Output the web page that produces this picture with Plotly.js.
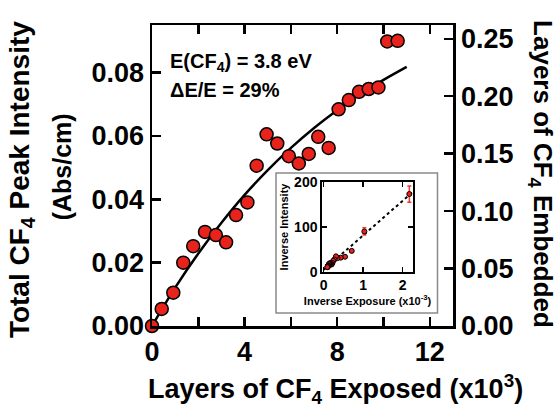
<!DOCTYPE html>
<html>
<head>
<meta charset="utf-8">
<script src="https://cdn.plot.ly/plotly-3.0.1.min.js"></script>
<style>html,body{margin:0;padding:0;background:#fff;}#chart{width:560px;height:408px;}</style>
</head>
<body>
<div id="chart"></div>
<script>
// Main data: layers exposed (x10^3) vs total CF4 peak intensity (Abs/cm)
const exposed = [0, 0.42, 0.92, 1.35, 1.78, 2.29, 2.76, 3.20, 3.63, 4.12, 4.52, 4.95, 5.41, 5.91, 6.34, 6.77, 7.18, 7.63, 8.06, 8.50, 8.94, 9.36, 9.78, 10.16, 10.61];
const intensity = [0, 0.0054, 0.0105, 0.0200, 0.0252, 0.0297, 0.0287, 0.0264, 0.0350, 0.0390, 0.0506, 0.0605, 0.0576, 0.0536, 0.0513, 0.0543, 0.0597, 0.0562, 0.0684, 0.0713, 0.0739, 0.0748, 0.0753, 0.0898, 0.0900];
// Fitted curve
const fitX = [0, 1, 2, 3, 4, 5, 6, 7, 8, 9, 10, 11];
const fitY = [0, 0.0121, 0.0229, 0.0326, 0.0414, 0.0492, 0.0562, 0.0625, 0.0681, 0.0732, 0.0777, 0.0818];
// Inset: inverse exposure (x10^-3) vs inverse intensity
const invExposure = [2.17, 1.03, 0.71, 0.54, 0.43, 0.35, 0.31, 0.27, 0.24, 0.22, 0.20, 0.18, 0.17, 0.16, 0.15, 0.14, 0.13, 0.12, 0.12, 0.11, 0.11, 0.10, 0.10, 0.09];
const invIntensity = [173, 90, 47, 34, 32, 31, 35, 28, 25, 20, 17, 17, 19, 20, 18, 17, 18, 15, 14, 14, 13, 13, 11, 11];
const invError = [18, 8, 3, 2, 2, 2, 2, 2, 1.5, 1, 1, 1, 1, 1, 1, 1, 1, 1, 1, 1, 1, 1, 1, 1];
const invFitX = [0, 2.25];
const invFitY = [5, 177];
// Right axis: layers embedded (same points on a second scale)
const rightRange = [0, 0.262];
const leftTickVals = [0, 0.02, 0.04, 0.06, 0.08];
const rightTickVals = [0, 0.05, 0.10, 0.15, 0.20, 0.25];

const FONT = 'Liberation Sans, Arial, sans-serif';
const big = {family: FONT, size: 28, color: '#000', weight: 'bold'};
const tickBig = {family: FONT, size: 27, color: '#000', weight: 'bold'};

const traces = [
  {x: fitX, y: fitY, mode: 'lines', line: {color: '#000', width: 2.5, shape: 'spline'}, xaxis: 'x', yaxis: 'y', hoverinfo: 'skip'},
  {x: exposed, y: intensity, mode: 'markers', marker: {color: '#e8231b', size: 13, line: {color: '#000', width: 1.5}}, xaxis: 'x', yaxis: 'y', cliponaxis: false},
  {x: [exposed[0]], y: [rightRange[0]], mode: 'markers', marker: {opacity: 0}, xaxis: 'x', yaxis: 'y3', hoverinfo: 'skip'},
  {x: invFitX, y: invFitY, mode: 'lines', line: {color: '#000', width: 2, dash: '3px,3px'}, xaxis: 'x2', yaxis: 'y2'},
  {x: invExposure, y: invIntensity, mode: 'markers', marker: {color: '#e8231b', size: 5, line: {color: '#000', width: 1}},
   error_y: {type: 'data', array: invError, color: '#f0392f', thickness: 1.5, width: 2}, xaxis: 'x2', yaxis: 'y2'}
];

const axCommon = {showline: true, linecolor: '#000', showgrid: false, zeroline: false, ticks: 'inside', tickcolor: '#000'};

const layout = {
  width: 560, height: 408,
  margin: {l: 152, r: 107, t: 25, b: 82},
  paper_bgcolor: '#fff', plot_bgcolor: 'rgba(0,0,0,0)',
  showlegend: false,
  font: {family: FONT, color: '#000'},
  xaxis: Object.assign({}, axCommon, {domain: [0, 1], range: [0, 13], tick0: 0, dtick: 4,
    minor: {dtick: 2, ticks: 'inside', ticklen: 9, tickwidth: 2.5, tickcolor: '#000', showgrid: false},
    linewidth: 2.5, tickwidth: 2.5, ticklen: 9, mirror: 'ticks', tickfont: tickBig, anchor: 'y'}),
  yaxis: Object.assign({}, axCommon, {domain: [0, 1], range: [0, 0.095], tickvals: leftTickVals, tickformat: '.2f',
    linewidth: 2.5, tickwidth: 2.5, ticklen: 9, tickfont: tickBig, anchor: 'x'}),
  yaxis3: Object.assign({}, axCommon, {overlaying: 'y', side: 'right', range: rightRange, tickvals: rightTickVals, tickformat: '.2f',
    linewidth: 2.5, tickwidth: 2.5, ticklen: 9, tickfont: tickBig, anchor: 'x'}),
  xaxis2: Object.assign({}, axCommon, {domain: [0.564, 0.868], anchor: 'y2', range: [-0.05, 2.27], dtick: 1, tick0: 0,
    linewidth: 1.5, tickwidth: 1.5, ticklen: 5, mirror: 'ticks',
    tickfont: {family: FONT, size: 14, color: '#000', weight: 'bold'},
    title: {text: 'Inverse Exposure (x10<sup>-3</sup>)', font: {family: FONT, size: 11, color: '#000', weight: 'bold'}, standoff: 3}}),
  yaxis2: Object.assign({}, axCommon, {domain: [0.179, 0.479], anchor: 'x2', range: [0, 200], dtick: 100, tick0: 0,
    linewidth: 1.5, tickwidth: 1.5, ticklen: 5, mirror: 'ticks',
    tickfont: {family: FONT, size: 14, color: '#000', weight: 'bold'},
    title: {text: 'Inverse Intensity', font: {family: FONT, size: 11, color: '#000', weight: 'bold'}, standoff: 3}}),
  shapes: [
    {type: 'rect', xref: 'paper', yref: 'paper', x0: 0.412, x1: 0.9485, y0: 0.043, y1: 0.508,
     line: {color: '#8a8a8a', width: 1.5}, fillcolor: '#fff', layer: 'below'}
  ],
  annotations: [
    {xref: 'paper', yref: 'paper', x: -0.435, y: 0.485, text: 'Total CF<sub>4</sub> Peak Intensity', textangle: -90,
     showarrow: false, xanchor: 'center', yanchor: 'middle', font: big},
    {xref: 'paper', yref: 'paper', x: -0.296, y: 0.53, text: '(Abs/cm)', textangle: -90,
     showarrow: false, xanchor: 'center', yanchor: 'middle', font: {family: FONT, size: 25, color: '#000', weight: 'bold'}},
    {xref: 'paper', yref: 'paper', x: 1.292, y: 0.505, text: 'Layers of CF<sub>4</sub> Embedded', textangle: 90,
     showarrow: false, xanchor: 'center', yanchor: 'middle', font: {family: FONT, size: 26, color: '#000', weight: 'bold'}},
    {xref: 'paper', yref: 'paper', x: 0.608, y: -0.208, text: 'Layers of CF<sub>4</sub> Exposed (x10<sup>3</sup>)',
     showarrow: false, xanchor: 'center', yanchor: 'middle', font: {family: FONT, size: 27, color: '#000', weight: 'bold'}},
    {xref: 'paper', yref: 'paper', x: 0.053, y: 0.874, text: 'E(CF<sub>4</sub>) = 3.8 eV',
     showarrow: false, xanchor: 'left', yanchor: 'middle', font: {family: FONT, size: 20, color: '#000', weight: 'bold'}},
    {xref: 'paper', yref: 'paper', x: 0.053, y: 0.784, text: '\u0394E/E = 29%',
     showarrow: false, xanchor: 'left', yanchor: 'middle', font: {family: FONT, size: 20, color: '#000', weight: 'bold'}}
  ]
};

Plotly.newPlot('chart', traces, layout, {displayModeBar: false, staticPlot: true});
</script>
</body>
</html>
